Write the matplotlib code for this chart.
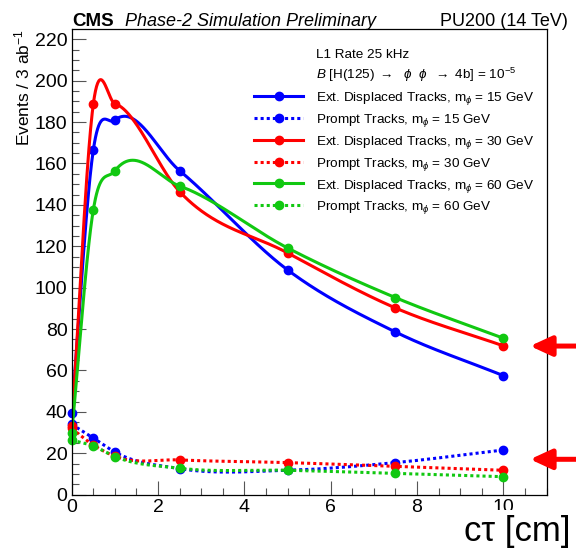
import matplotlib

matplotlib.use("Agg")
import matplotlib.pyplot as plt
import numpy as np
from matplotlib.lines import Line2D
from matplotlib.patches import Rectangle
from matplotlib.ticker import MultipleLocator

plt.rcParams["font.family"] = ["Liberation Sans", "DejaVu Sans"]
plt.rcParams["mathtext.fontset"] = "custom"
plt.rcParams["mathtext.rm"] = "Liberation Sans"
plt.rcParams["mathtext.it"] = "Liberation Sans:italic"

# c*tau values (cm)
ctau = [0.0, 0.5, 1.0, 2.5, 5.0, 7.5, 10.0]

# events / 3 ab-1
disp_15 = [39.3, 166.4, 180.9, 156.5, 108.6, 78.6, 57.5]
prompt_15 = [34.0, 27.4, 20.6, 12.6, 11.8, 15.5, 21.6]
disp_30 = [33.0, 188.6, 188.9, 146.4, 116.8, 90.2, 71.9]
prompt_30 = [32.0, 24.0, 18.6, 16.8, 15.5, 13.7, 11.8]
disp_60 = [29.8, 137.5, 156.4, 149.1, 119.2, 95.2, 75.6]
prompt_60 = [26.4, 23.5, 18.4, 12.8, 11.8, 10.3, 8.7]

labels = [
    r"Ext. Displaced Tracks, m$_{\phi}$ = 15 GeV",
    r"Prompt Tracks, m$_{\phi}$ = 15 GeV",
    r"Ext. Displaced Tracks, m$_{\phi}$ = 30 GeV",
    r"Prompt Tracks, m$_{\phi}$ = 30 GeV",
    r"Ext. Displaced Tracks, m$_{\phi}$ = 60 GeV",
    r"Prompt Tracks, m$_{\phi}$ = 60 GeV",
]
series = [disp_15, prompt_15, disp_30, prompt_30, disp_60, prompt_60]
colors = ["#0000ff", "#0000ff", "#ff0000", "#ff0000", "#11c811", "#11c811"]
styles = ["-", (0, (1, 1)), "-", (0, (1, 1)), "-", (0, (1, 1))]

# red arrows at the right edge (y values they point at)
arrow_y = [71.8, 17.1]


def smooth_curve(x, y, xs):
    """Cubic Hermite through the points, 3-point slopes (close to ROOT's "C")."""
    x = np.asarray(x, float)
    y = np.asarray(y, float)
    h = np.diff(x)
    d = np.diff(y) / h
    m = np.empty_like(y)
    m[0], m[-1] = d[0], d[-1]
    m[1:-1] = (d[:-1] * h[1:] + d[1:] * h[:-1]) / (h[:-1] + h[1:])
    idx = np.clip(np.searchsorted(x, xs) - 1, 0, len(x) - 2)
    hh = h[idx]
    t = (xs - x[idx]) / hh
    h00 = 2 * t**3 - 3 * t**2 + 1
    h10 = t**3 - 2 * t**2 + t
    h01 = -2 * t**3 + 3 * t**2
    h11 = t**3 - t**2
    return (h00 * y[idx] + h10 * hh * m[idx] + h01 * y[idx + 1]
            + h11 * hh * m[idx + 1])


W, H = 576, 550
fig = plt.figure(figsize=(W / 100, H / 100), dpi=100)
L, R, T, B = 71.7, 546.5, 29.3, 494.7
ax = fig.add_axes([L / W, 1 - B / H, (R - L) / W, (B - T) / H])

xs = np.linspace(0, 10, 800)
for vals, col, ls in zip(series, colors, styles):
    ax.plot(xs, smooth_curve(ctau, vals, xs), color=col, ls=ls, lw=2.2,
            solid_capstyle="butt", dash_capstyle="butt")
    ax.plot(ctau, vals, "o", color=col, ms=6, mec=col, clip_on=False)

ax.set_xlim(0, 11)
ax.set_ylim(0, 224.8)
ax.set_xticks(np.arange(0, 11, 2))
ax.set_yticks(np.arange(0, 221, 20))
ax.xaxis.set_minor_locator(MultipleLocator(0.5))
ax.yaxis.set_minor_locator(MultipleLocator(5))
ax.tick_params(which="both", direction="in", top=False, right=False,
               labelsize=14, width=0.8, color="#555555")
ax.tick_params(which="major", length=10, pad=3)
ax.tick_params(which="minor", length=5)
for s in ax.spines.values():
    s.set_linewidth(0.9)


# legend drawn by hand, ROOT style
def ax_y(py):
    return (B - py) / (B - T)


def ax_x(px):
    return (px - L) / (R - L)


row0, step = 52.7, 21.8
ax.text(ax_x(316), ax_y(row0 + 5), "L1 Rate 25 kHz",
        transform=ax.transAxes, fontsize=9.7, va="baseline")
ax.text(ax_x(316), ax_y(row0 + step + 5),
        r"$B$ [H(125) $\rightarrow$  $\phi$  $\phi$  $\rightarrow$ 4b] = 10$^{-5}$",
        transform=ax.transAxes, fontsize=9.7, va="baseline")
for i, (lab, col, ls) in enumerate(zip(labels, colors, styles)):
    py = row0 + step * (i + 2)
    ya = ax_y(py)
    ax.add_line(Line2D([ax_x(254), ax_x(303)], [ya, ya],
                       transform=ax.transAxes, color=col, ls=ls, lw=2.2,
                       clip_on=False))
    ax.add_line(Line2D([ax_x(279)], [ya], transform=ax.transAxes,
                       marker="o", ms=6, color=col, ls="none", clip_on=False))
    ax.text(ax_x(316), ax_y(py + 5), lab, transform=ax.transAxes,
            fontsize=9.7, va="baseline")

# arrows
for yv in arrow_y:
    ax.annotate("", xy=(10.62, yv), xycoords="data",
                xytext=(11.75, yv), textcoords="data",
                arrowprops=dict(arrowstyle="-|>,head_length=13,head_width=6",
                                mutation_scale=1, lw=3.6, color="red",
                                shrinkA=0, shrinkB=0),
                annotation_clip=False)

# header
fig.text(72 / W, 1 - 25.5 / H, "CMS", weight="bold", fontsize=13.5, va="baseline")
fig.text(125 / W, 1 - 25.5 / H, "Phase-2 Simulation Preliminary",
         style="italic", fontsize=13, va="baseline")
fig.text(568 / W, 1 - 25.5 / H, "PU200 (14 TeV)", fontsize=13,
         ha="right", va="baseline")

fig.text(22 / W, 1 - 29 / H, r"Events / 3 ab$^{-1}$", rotation=90,
         fontsize=12.5, ha="center", va="top")

# x title sits on a white box that hides the lower half of the "10" label
fig.patches.append(Rectangle((445 / W, 0), (W - 445) / W, (H - 510) / H,
                             transform=fig.transFigure, facecolor="white",
                             edgecolor="none", zorder=5))
fig.text(571 / W, 1 - 541 / H, "cτ [cm]", fontsize=25, ha="right",
         va="baseline", zorder=6)

fig.savefig("out.png", dpi=100)
